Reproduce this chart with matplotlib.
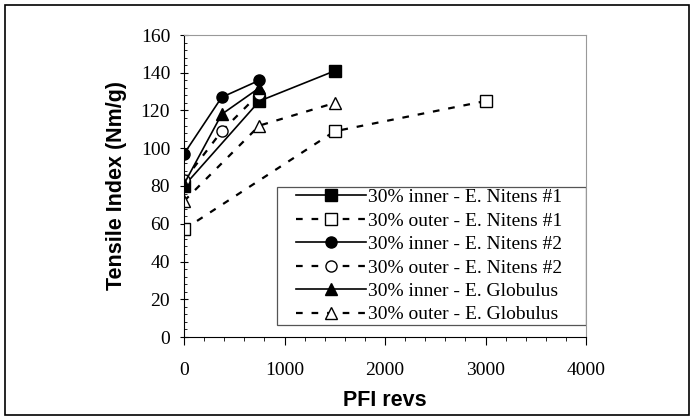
import matplotlib
matplotlib.use('Agg')
import matplotlib.pyplot as plt
from matplotlib.ticker import MultipleLocator
from matplotlib.patches import Rectangle

# data
x_in1 = [0, 750, 1500]
y_in1 = [80, 125, 141]
x_out1 = [0, 1500, 3000]
y_out1 = [57, 109, 125]
x_in2 = [0, 375, 750]
y_in2 = [97, 127, 136]
x_out2 = [0, 375, 750]
y_out2 = [83, 109, 129]
x_glin = [0, 375, 750]
y_glin = [81, 118, 132]
x_glout = [0, 750, 1500]
y_glout = [72, 112, 124]
labels = ['30% inner - E. Nitens #1', '30% outer - E. Nitens #1',
          '30% inner - E. Nitens #2', '30% outer - E. Nitens #2',
          '30% inner - E. Globulus', '30% outer - E. Globulus']

serif = 'Liberation Serif'
fig = plt.figure(figsize=(6.95, 4.2), dpi=100)
fig.patches.append(Rectangle((0.007, 0.012), 0.985, 0.976, transform=fig.transFigure,
                             fill=False, edgecolor='black', linewidth=1.2))
ax = fig.add_axes([184/695, 83/420, 402/695, 302/420])

ms = 8
dash = (0, (3, 4))
ax.plot(x_in1, y_in1, '-', color='black', lw=1.2, marker='s', ms=ms, mfc='black', label=labels[0])
ax.plot(x_out1, y_out1, linestyle=dash, color='black', lw=1.6, marker='s', ms=ms, mfc='white', label=labels[1])
ax.plot(x_in2, y_in2, '-', color='black', lw=1.2, marker='o', ms=ms, mfc='black', label=labels[2])
ax.plot(x_out2, y_out2, linestyle=dash, color='black', lw=1.6, marker='o', ms=ms, mfc='white', label=labels[3])
ax.plot(x_glin, y_glin, '-', color='black', lw=1.2, marker='^', ms=ms, mfc='black', label=labels[4])
ax.plot(x_glout, y_glout, linestyle=dash, color='black', lw=1.6, marker='^', ms=ms, mfc='white', label=labels[5])

ax.set_xlim(0, 4000)
ax.set_ylim(0, 160)
ax.xaxis.set_major_locator(MultipleLocator(1000))
ax.xaxis.set_minor_locator(MultipleLocator(200))
ax.yaxis.set_major_locator(MultipleLocator(20))
ax.yaxis.set_minor_locator(MultipleLocator(4))
ax.tick_params(axis='x', which='major', direction='out', length=6, pad=12, labelsize=14)
ax.tick_params(axis='x', which='minor', direction='out', length=3)
ax.tick_params(axis='y', which='major', direction='inout', length=6, pad=7, labelsize=14)
ax.tick_params(axis='y', which='minor', direction='in', length=2)
for lab in ax.get_xticklabels() + ax.get_yticklabels():
    lab.set_fontfamily(serif)
for s in ['top', 'right']:
    ax.spines[s].set_color('#999999')
    ax.spines[s].set_linewidth(0.8)

ax.set_xlabel('PFI revs', fontsize=15.5, fontweight='bold', family='Liberation Sans', labelpad=8)
ax.set_ylabel('Tensile Index (Nm/g)', fontsize=15.5, fontweight='bold', family='Liberation Sans', labelpad=10)

# legend box is wider than its contents in the original, so draw the frame separately
ax.add_patch(Rectangle((0.231, 0.04), 0.769, 0.457, transform=ax.transAxes, fill=False,
                       edgecolor='#555555', linewidth=0.9, zorder=4))
leg = ax.legend(loc='center right', bbox_to_anchor=(0.955, 0.268), prop={'family': serif, 'size': 14},
                handlelength=3.6, handletextpad=0.1, labelspacing=0.3, borderpad=0.3,
                borderaxespad=0.0, frameon=False)

fig.savefig('out.png', dpi=100)
